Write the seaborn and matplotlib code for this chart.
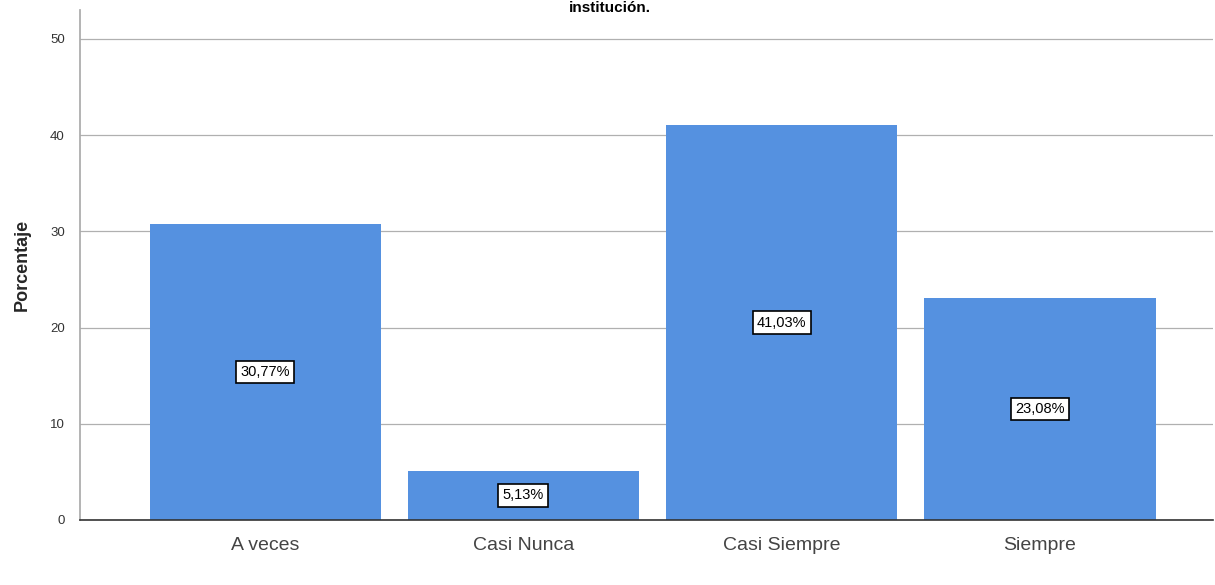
import matplotlib
matplotlib.use("Agg")
import matplotlib.pyplot as plt
import seaborn as sns
import pandas as pd

categories = ["A veces", "Casi Nunca", "Casi Siempre", "Siempre"]
percentages = [30.77, 5.13, 41.03, 23.08]
bar_labels = ["30,77%", "5,13%", "41,03%", "23,08%"]
y_ticks = [0, 10, 20, 30, 40, 50]

sns.set_theme(style="white")
plt.rcParams['font.family'] = ['Liberation Sans', 'DejaVu Sans']

df = pd.DataFrame({"Categoria": categories, "Porcentaje": percentages})

fig = plt.figure(figsize=(12.15, 5.85), dpi=100)
ax = fig.add_axes([80/1215, 1 - 520/585, (1213-80)/1215, (520-10)/585])

sns.barplot(data=df, x="Categoria", y="Porcentaje", color="#5591E0",
            saturation=1, width=0.895, ax=ax, edgecolor="none")

ax.set_xlim(-0.717, 3.67)
ax.set_ylim(0, 53)
ax.set_yticks(y_ticks)
ax.set_yticklabels([str(t) for t in y_ticks], fontsize=9.5, color="#333333")
ax.yaxis.grid(True, color="#b0b0b0", linewidth=0.9)
ax.set_axisbelow(True)
ax.tick_params(axis="y", length=4, color="#999999", pad=7)
ax.tick_params(axis="x", length=0, pad=12, labelsize=14, labelcolor="#444444")

for s in ["top", "right"]:
    ax.spines[s].set_visible(False)
ax.spines["left"].set_color("#aaaaaa")
ax.spines["bottom"].set_color("#333333")
ax.spines["bottom"].set_linewidth(1.2)

ax.set_xlabel("")
ax.set_ylabel("Porcentaje", fontsize=13, fontweight="bold", labelpad=14)

for i, (v, lab) in enumerate(zip(percentages, bar_labels)):
    ax.text(i, v / 2, lab, ha="center", va="center", fontsize=10.5, color="black",
            bbox=dict(boxstyle="square,pad=0.3", facecolor="white",
                      edgecolor="black", linewidth=1.2))

fig.text(610/1215, 1 - 1/585, "institución.", ha="center", va="top",
         fontsize=11, fontweight="bold", color="black")

fig.savefig("out.png", dpi=100)
